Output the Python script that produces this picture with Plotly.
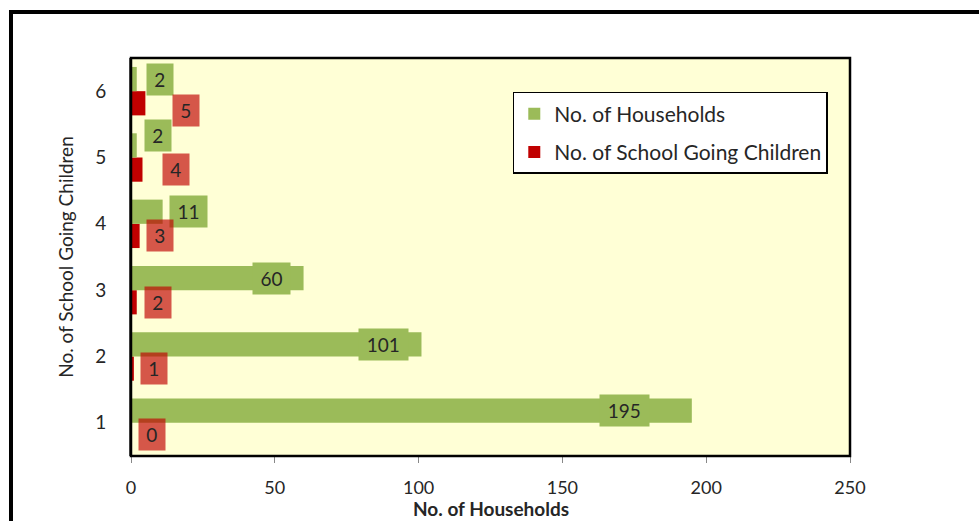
import plotly.graph_objects as go

# Number of school-going children per household (category axis)
categories = [1, 2, 3, 4, 5, 6]
households = [195, 101, 60, 11, 2, 2]
school_children = [0, 1, 2, 3, 4, 5]

x_ticks = [0, 50, 100, 150, 200, 250]

GREEN = "#9BBB59"
RED = "#C00000"
RED_LABEL = "rgba(192,0,0,0.66)"
FONT = "Lato"
TEXT = "#262626"

# pixel nudges for the boxed data labels
green_xshift = [-67, -38, -32, 26, 21, 23]
green_yshift = [0, 0, 0, 0, 10, 0]
red_xshift = [21, 20, 21, 20, 33, 41]
red_yshift = [0, 0, 0, 0, 0, -7]

fig = go.Figure()
fig.add_trace(go.Bar(
    y=categories, x=school_children, orientation="h",
    name="No. of School Going Children", marker=dict(color=RED, line=dict(width=0)),
    legendgroup="b", legendrank=2,
))
fig.add_trace(go.Bar(
    y=categories, x=households, orientation="h",
    name="No. of Households", marker=dict(color=GREEN, line=dict(width=0)),
    legendgroup="a", legendrank=1,
))

BAR_OFF = 12  # half of one bar's thickness in px


def box_width(v):
    return 14 + 11.5 * len(str(v))


annotations = []
for i, (c, v) in enumerate(zip(categories, households)):
    annotations.append(dict(
        x=v, y=c, xref="x", yref="y", text=str(v), showarrow=False,
        xshift=green_xshift[i], yshift=BAR_OFF + green_yshift[i],
        bgcolor=GREEN, width=box_width(v), height=31, borderpad=0,
        font=dict(family=FONT, size=19, color=TEXT),
    ))
for i, (c, v) in enumerate(zip(categories, school_children)):
    annotations.append(dict(
        x=v, y=c, xref="x", yref="y", text=str(v), showarrow=False,
        xshift=red_xshift[i], yshift=-BAR_OFF + red_yshift[i],
        bgcolor=RED_LABEL, width=box_width(v), height=31, borderpad=0,
        font=dict(family=FONT, size=19, color=TEXT),
    ))

# x-axis title, set just below the tick labels
annotations.append(dict(
    x=0.5, y=-0.1633, xref="paper", yref="paper", xanchor="center", yanchor="bottom",
    text="<b>No. of Households</b>", showarrow=False, borderpad=0,
    font=dict(family=FONT, size=19, color=TEXT),
))

shapes = [
    # plot-area frame
    dict(type="rect", xref="paper", yref="paper", x0=0, x1=1, y0=0, y1=1,
         line=dict(color="black", width=2.5), layer="above"),
    # outer chart frame (top and left edges)
    dict(type="line", xref="paper", yref="paper", x0=-0.1669, x1=1.3,
         y0=1.1156, y1=1.1156, line=dict(color="black", width=4)),
    dict(type="line", xref="paper", yref="paper", x0=-0.1669, x1=-0.1669,
         y0=1.1206, y1=-0.3, line=dict(color="black", width=4)),
]

fig.update_layout(
    width=979, height=521,
    margin=dict(l=131, r=129, t=58, b=65, autoexpand=False),
    paper_bgcolor="white", plot_bgcolor="#FFFFD6",
    barmode="group", bargap=0.27, bargroupgap=0,
    font=dict(family=FONT, size=19, color=TEXT),
    showlegend=True,
    legend=dict(
        x=0.531, y=0.9146, xanchor="left", yanchor="top",
        bgcolor="white", bordercolor="black", borderwidth=1.5,
        traceorder="grouped", tracegroupgap=8,
        font=dict(family=FONT, size=21, color=TEXT),
    ),
    annotations=annotations, shapes=shapes,
    xaxis=dict(
        range=[0, 250], tickvals=x_ticks, showgrid=False, zeroline=False,
        ticks="outside", ticklen=6, tickcolor="#888888", ticklabelstandoff=9,
        showline=False, tickfont=dict(family=FONT, size=18, color=TEXT),
        automargin=False,
    ),
    yaxis=dict(
        range=[0.5, 6.5], tickvals=categories, showgrid=False, zeroline=False,
        ticks="", showline=True, linecolor="#555555", linewidth=2,
        ticklabelstandoff=19, tickfont=dict(family=FONT, size=19, color=TEXT),
        title=dict(text="No. of School Going Children", standoff=17,
                   font=dict(family=FONT, size=19, color=TEXT)),
        automargin=False,
    ),
)

fig.write_html("out.html")
